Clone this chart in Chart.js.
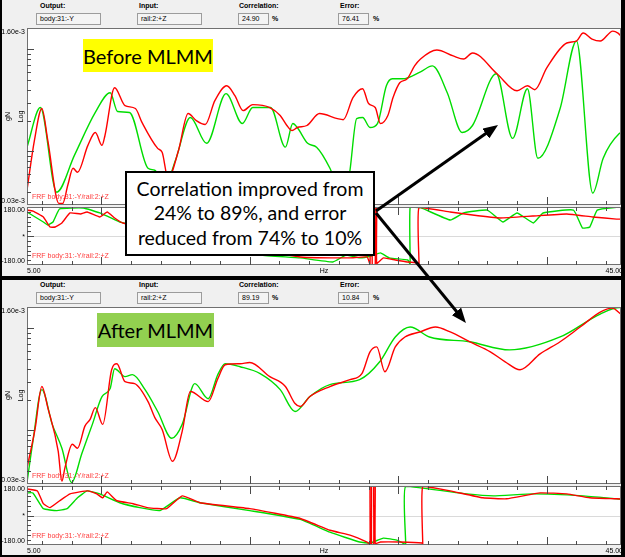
<!DOCTYPE html>
<html>
<head>
<meta charset="utf-8">
<script src="https://cdn.jsdelivr.net/npm/chart.js@4.4.0/dist/chart.umd.min.js"></script>
<style>
  html, body { margin: 0; padding: 0; }
  body { width: 625px; height: 557px; background: #000; position: relative; overflow: hidden;
         font-family: "Liberation Sans", Arial, sans-serif; }
  .panel { position: absolute; left: 2px; width: 619px; background: #f0f0f0; }
  .lbl { position: absolute; font-size: 7px; font-weight: bold; color: #000; }
  .box { position: absolute; height: 12px; border: 1px solid #9c9c9c; background: #f4f4f4; font-size: 7px;
         line-height: 10px; padding-left: 3px; box-sizing: border-box; color: #000; }
  canvas { position: absolute; left: 0; }
  .tag { position: absolute; font-family: Lato, "Open Sans", sans-serif; font-size: 20px; color: #000;
         display: flex; align-items: center; justify-content: center; z-index: 5; }
  #note { position: absolute; left: 125px; top: 171px; width: 250px; height: 85px; box-sizing: border-box;
          border: 2px solid #000; background: #fff; z-index: 5; display: flex; flex-direction: column;
          justify-content: center; align-items: center; font-family: Lato, "Open Sans", sans-serif;
          font-size: 19.5px; line-height: 24.5px; color: #000; }
  svg { position: absolute; left: 0; top: 0; z-index: 6; pointer-events: none; }
</style>
</head>
<body>
<div class="panel" style="top:0;height:276px"></div>
<div class="panel" style="top:280px;height:275px"></div>
<div id="head1"></div>
<div id="head2"></div>

<canvas id="magBefore" width="625" height="190" style="top:18px"></canvas>
<canvas id="phaseBefore" width="625" height="72" style="top:205px"></canvas>
<canvas id="magAfter" width="625" height="190" style="top:297px"></canvas>
<canvas id="phaseAfter" width="625" height="72" style="top:484px"></canvas>

<div class="tag" style="left:83px;top:39px;width:130px;height:33px;background:#ffff00">Before MLMM</div>
<div class="tag" style="left:97px;top:313px;width:117px;height:34px;background:#92d050">After MLMM</div>
<div id="note">
  <div>Correlation improved from</div>
  <div>24% to 89%, and error</div>
  <div>reduced from 74% to 10%</div>
</div>

<svg width="625" height="557">
  <defs>
    <marker id="ah" markerWidth="15" markerHeight="12" refX="7" refY="6" orient="auto" markerUnits="userSpaceOnUse">
      <path d="M0,0 L15,6 L0,12 z" fill="#000"/>
    </marker>
  </defs>
  <line x1="376" y1="211" x2="491.5" y2="129.6" stroke="#000" stroke-width="3" marker-end="url(#ah)"/>
  <line x1="376" y1="213" x2="460.9" y2="316.8" stroke="#000" stroke-width="3" marker-end="url(#ah)"/>
</svg>

<script>
// header fields
const headTitles = ['Output:', 'Input:', 'Correlation:', 'Error:'];
const headBefore = ['body:31:-Y', 'rail:2:+Z', '24.90', '76.41'];
const headAfter = ['body:31:-Y', 'rail:2:+Z', '89.19', '10.84'];

// axis ticks
const freqTicks = [6, 8, 10, 12, 14, 16, 18, 20, 22, 24, 26, 28, 30, 32, 34, 36, 38, 40, 42, 44];
const freqLabels = ['5.00', '45.00'];
const magTicks = [0.04, 0.05, 0.06, 0.07, 0.08, 0.09, 0.1, 0.2, 0.3, 0.4, 0.5, 0.6, 0.7, 0.8, 0.9, 1.0];
const magMajor = [0.1, 1.0];
const magLabels = ['1.60e-3', '0.03e-3'];
const phaseTicks = [-150, -120, -90, -60, -30, 0, 30, 60, 90, 120, 150];
const phaseLabels = ['180.00', '*', '-180.00'];

// [Hz, gN in e-3] and [Hz, deg]
const beforeMagRed = [[5.0,0.042],[5.5,0.128],[6.0,0.262],[6.4,0.128],[7.15,0.031],[7.4,0.031],[7.75,0.047],
  [8.1,0.0685],[8.4,0.0627],[9.1,0.1145],[9.6,0.153],[10.05,0.1145],[10.25,0.143],[10.9,0.418],[11.6,0.280],
  [12.3,0.262],[12.75,0.191],[13.8,0.107],[14.1,0.098],[14.5,0.0548],[15.2,0.102],[15.85,0.234],[16.4,0.200],
  [17.0,0.183],[17.65,0.313],[18.45,0.437],[19.0,0.350],[19.55,0.250],[20.2,0.286],[21.35,0.268],[22.05,0.224],
  [22.5,0.179],[22.85,0.160],[23.2,0.171],[23.85,0.179],[24.7,0.234],[25.9,0.209],[26.3,0.204],[26.95,0.335],
  [27.6,0.409],[28.0,0.293],[28.45,0.268],[28.8,0.187],[29.3,0.224],[29.65,0.335],[30.1,0.467],[30.6,0.511],
  [31.1,0.683],[31.5,0.798],[32.6,0.976],[33.7,0.854],[34.4,0.798],[35.0,0.913],[36.65,0.572],[38.0,0.391],
  [38.7,0.437],[39.2,0.400],[40.0,0.653],[41.35,1.142],[42.0,1.194],[42.45,1.428],[43.05,1.249],[43.6,1.194],
  [44.45,1.493],[44.8,1.428],[45.0,1.335]];
const beforeMagGreen = [[5.0,0.110],[5.9,0.268],[7.0,0.040],[8.2,0.092],[9.6,0.240],[10.6,0.374],[11.1,0.245],
  [11.9,0.240],[13.15,0.0685],[13.6,0.0655],[14.3,0.047],[15.0,0.082],[16.0,0.214],[17.1,0.120],[18.4,0.366],
  [19.5,0.187],[20.2,0.268],[21.4,0.268],[22.4,0.110],[22.9,0.187],[23.2,0.171],[23.9,0.120],[24.5,0.110],
  [25.4,0.0685],[26.4,0.031],[26.75,0.0655],[27.2,0.209],[27.6,0.214],[28.1,0.171],[28.6,0.187],[29.2,0.437],
  [29.6,0.511],[30.3,0.511],[31.5,0.598],[32.3,0.683],[33.3,0.374],[34.3,0.153],[35.0,0.179],[36.6,0.572],
  [37.7,0.134],[38.7,0.409],[39.4,0.0857],[40.9,0.262],[42.0,1.194],[43.1,0.0392],[43.8,0.0857],[44.9,0.150],
  [45.0,0.152]];
const beforePhaseRed = [[5.0,161],[5.4,155],[6.1,118],[6.55,56],[6.9,56],[7.35,81],[7.9,143],[8.6,137],[9.05,149],
  [9.9,118],[10.4,149],[10.9,112],[11.45,81],[16.65,-25],[23.4,-130],[26.75,-136],[27.9,-130],[28.1,-176],
  [28.1,178],[28.25,178],[28.25,-176],[28.45,-176],[28.45,178],[28.55,178],[28.55,-170],[29.0,-136],[29.8,-149],
  [30.6,-161],[31.35,-167],[31.4,-178],[31.4,178],[33.5,149],[35.0,130],[36.85,112],[39.05,124],[41.35,137],
  [43.1,118],[44.7,105],[45.0,105]];
const beforePhaseGreen = [[5.0,149],[6.1,87],[6.4,68],[6.75,87],[7.2,168],[8.8,174],[9.9,143],[11.25,87],[11.5,81],
  [16.65,-56],[20.7,-118],[23.4,-136],[25.6,-161],[26.5,-118],[27.4,-136],[28.2,-124],[28.8,-105],[29.4,-136],
  [30.65,-149],[30.8,-176],[30.8,178],[31.5,176],[33.5,99],[34.4,143],[36.0,161],[37.05,87],[38.0,143],[39.1,81],
  [39.75,143],[41.8,161],[42.4,50],[42.9,56],[43.4,161],[44.7,178],[45.0,178]];

const afterMagRed = [[5.0,0.0429],[5.55,0.1047],[6.0,0.268],[6.4,0.167],[7.1,0.0627],[7.35,0.032],[7.55,0.0429],
  [8.05,0.0733],[8.4,0.067],[8.9,0.110],[9.25,0.128],[9.6,0.167],[10.1,0.1145],[10.7,0.391],[11.05,0.447],
  [11.6,0.299],[12.25,0.286],[13.15,0.191],[13.6,0.134],[14.1,0.102],[14.8,0.050],[15.45,0.098],[16.0,0.240],
  [17.2,0.191],[17.85,0.320],[18.35,0.437],[19.35,0.447],[20.0,0.46],[21.35,0.335],[22.4,0.268],[23.05,0.183],
  [23.4,0.171],[24.05,0.214],[25.4,0.268],[26.75,0.313],[27.55,0.358],[28.1,0.585],[28.55,0.653],[29.1,0.374],
  [29.8,0.653],[30.45,0.816],[31.45,0.913],[32.5,1.02],[33.5,0.913],[34.8,0.733],[36.2,0.585],[37.2,0.467],
  [38.2,0.391],[39.55,0.558],[40.9,0.733],[42.25,1.02],[43.6,1.428],[44.4,1.56],[45.0,1.365]];
const afterMagGreen = [[5.0,0.031],[5.4,0.0784],[6.0,0.250],[6.7,0.1145],[7.35,0.067],[8.0,0.031],[8.7,0.060],
  [9.4,0.1145],[10.05,0.214],[10.6,0.256],[10.9,0.400],[11.6,0.335],[12.1,0.350],[12.95,0.250],[13.8,0.153],
  [14.75,0.0838],[15.45,0.1145],[16.3,0.286],[17.2,0.204],[17.85,0.350],[18.35,0.447],[19.35,0.418],[20.7,0.358],
  [22.05,0.250],[23.05,0.153],[24.05,0.214],[25.4,0.280],[27.4,0.313],[28.75,0.467],[29.8,0.816],[30.8,1.02],
  [32.1,0.816],[34.8,0.733],[37.5,0.61],[40.9,0.816],[43.6,1.365],[44.9,1.58],[45.0,1.58]];
const afterPhaseRed = [[5.0,162],[5.7,150],[6.1,72],[6.55,48],[7.2,90],[7.9,132],[8.55,144],[9.1,150],[9.7,132],
  [10.1,108],[10.4,144],[11.05,90],[12.15,72],[13.1,48],[14.4,42],[15.45,120],[16.65,78],[20.0,42],[23.4,-18],
  [25.4,-90],[26.75,-120],[27.9,-162],[28.1,-176],[28.1,178],[28.2,178],[28.2,-176],[28.35,-176],[28.35,178],
  [28.45,178],[28.45,-170],[28.8,-162],[30.1,-162],[31.6,-168],[31.65,-178],[31.65,178],[33.5,150],[35.7,108],
  [37.3,102],[39.55,138],[41.35,132],[42.9,108],[44.7,102],[45.0,100]];
const afterPhaseGreen = [[5.0,138],[5.4,138],[6.1,42],[7.0,30],[7.7,42],[8.4,108],[9.05,150],[9.9,132],[11.25,78],
  [12.6,48],[13.95,30],[15.3,108],[16.65,78],[20.0,30],[23.4,-24],[25.4,-102],[27.4,-162],[28.1,-168],[29.0,-138],
  [29.9,-150],[30.3,-168],[30.5,-178],[30.5,178],[34.6,132],[36.4,120],[39.1,132],[42.45,120],[44.7,102],[45.0,100]];

const frfText = 'FRF body:31:-Y/rail:2:+Z';

function header(id, top, values) {
  const lx = [40, 139, 239, 340], bx = [36, 137, 238, 338], bw = [65, 65, 31, 31];
  let html = '';
  headTitles.forEach((t, i) => {
    html += `<div class="lbl" style="left:${lx[i]}px;top:${top + 2}px">${t}</div>`;
    html += `<div class="box" style="left:${bx[i]}px;top:${top + 13}px;width:${bw[i]}px">${values[i]}</div>`;
  });
  html += `<div class="lbl" style="left:272px;top:${top + 15}px">%</div>`;
  html += `<div class="lbl" style="left:373px;top:${top + 15}px">%</div>`;
  document.getElementById(id).innerHTML = html;
}
header('head1', 0, headBefore);
header('head2', 279, headAfter);

const decor = {
  id: 'decor',
  beforeDraw(chart, args, o) {
    const { ctx, chartArea: a, scales: { y } } = chart;
    ctx.save();
    ctx.fillStyle = '#fff';
    ctx.fillRect(a.left, a.top, a.width, a.height);
    if (o.zero) {
      const py = Math.round(y.getPixelForValue(0)) + 0.5;
      ctx.strokeStyle = '#dadada';
      ctx.lineWidth = 1;
      ctx.beginPath(); ctx.moveTo(a.left, py); ctx.lineTo(a.right, py); ctx.stroke();
    }
    ctx.restore();
  },
  afterDraw(chart, args, o) {
    const { ctx, chartArea: a, scales: { x, y } } = chart;
    ctx.save();
    ctx.strokeStyle = '#707070';
    ctx.lineWidth = 1;
    ctx.strokeRect(a.left + 0.5, a.top + 0.5, a.width - 1, a.height - 1);

    ctx.strokeStyle = '#4a4a4a';
    ctx.beginPath();
    freqTicks.forEach(v => {
      const px = Math.round(x.getPixelForValue(v)) + 0.5;
      const len = v % 10 === 0 ? 8 : 4;
      ctx.moveTo(px, a.bottom); ctx.lineTo(px, a.bottom - len);
      if (o.topTicks) { ctx.moveTo(px, a.top); ctx.lineTo(px, a.top + len); }
    });
    o.yTicks.forEach(v => {
      const py = Math.round(y.getPixelForValue(v)) + 0.5;
      ctx.moveTo(a.left, py); ctx.lineTo(a.left + (o.yMajor.includes(v) ? 7 : 4), py);
    });
    ctx.stroke();

    ctx.fillStyle = '#000';
    ctx.font = '7px "Liberation Sans", Arial, sans-serif';
    ctx.textAlign = 'right';
    ctx.textBaseline = 'middle';
    o.yLabels.forEach((t, i) => {
      ctx.fillText(t, a.left - 2, y.getPixelForValue(o.yLabelAt[i]) + o.yLabelDy[i]);
    });

    if (o.yTitle) {
      const mid = (a.top + a.bottom) / 2;
      ctx.textAlign = 'center';
      ctx.save(); ctx.translate(8.5, mid); ctx.rotate(-Math.PI / 2); ctx.fillText('gN', 0, 0); ctx.restore();
      ctx.save(); ctx.translate(21, mid); ctx.rotate(-Math.PI / 2); ctx.fillText('Log', 0, 0); ctx.restore();
    }

    if (o.xLabels) {
      const ly = a.bottom + 6;
      ctx.textAlign = 'left';
      ctx.fillText(freqLabels[0], x.getPixelForValue(5), ly);
      ctx.textAlign = 'right';
      ctx.fillText(freqLabels[1], x.getPixelForValue(45) + 2, ly);
      ctx.textAlign = 'center';
      ctx.fillText('Hz', (a.left + a.right) / 2, ly);
    }

    ctx.fillStyle = '#ff3b3b';
    ctx.textAlign = 'left';
    ctx.fillText(frfText, a.left + 5, a.bottom - o.frfDy);
    ctx.restore();
  }
};

function series(red, green, smooth) {
  const line = (pts, color) => Object.assign({
    data: pts.map(p => ({ x: p[0], y: p[1] })),
    borderColor: color, borderWidth: 1.4, pointRadius: 0, fill: false, borderJoinStyle: 'round'
  }, smooth ? { cubicInterpolationMode: 'monotone' } : { tension: 0.12 });
  return [line(red, '#ff0000'), line(green, '#00dd00')];
}

function makeChart(id, datasets, yScale, padding, deco) {
  return new Chart(document.getElementById(id), {
    type: 'line',
    data: { datasets },
    options: {
      responsive: false,
      animation: false,
      events: [],
      layout: { padding },
      plugins: { legend: { display: false }, tooltip: { enabled: false }, decor: deco },
      scales: {
        x: { type: 'linear', min: 5, max: 45, display: false },
        y: Object.assign({ display: false }, yScale)
      }
    },
    plugins: [decor]
  });
}

const magScale = { type: 'logarithmic', min: 0.03, max: 1.6 };
const phaseScale = { type: 'linear', min: -180, max: 180 };
const magDeco = { yTicks: magTicks, yMajor: magMajor, yLabels: magLabels, yLabelAt: [1.6, 0.03],
  yLabelDy: [4, -4], yTitle: true, topTicks: false, xLabels: false, zero: false, frfDy: 8 };
const phaseDeco = { yTicks: phaseTicks, yMajor: [0], yLabels: phaseLabels, yLabelAt: [180, 0, -180],
  yLabelDy: [3, 1, -4], yTitle: false, topTicks: true, xLabels: true, zero: true, frfDy: 9 };

makeChart('magBefore', series(beforeMagRed, beforeMagGreen, true), magScale,
  { left: 27, right: 4, top: 10, bottom: 3 }, magDeco);
makeChart('phaseBefore', series(beforePhaseRed, beforePhaseGreen, false), phaseScale,
  { left: 27, right: 4, top: 2, bottom: 12 }, phaseDeco);
makeChart('magAfter', series(afterMagRed, afterMagGreen, true), magScale,
  { left: 27, right: 4, top: 10, bottom: 3 }, magDeco);
makeChart('phaseAfter', series(afterPhaseRed, afterPhaseGreen, false), phaseScale,
  { left: 27, right: 4, top: 2, bottom: 11 }, phaseDeco);
</script>
</body>
</html>
